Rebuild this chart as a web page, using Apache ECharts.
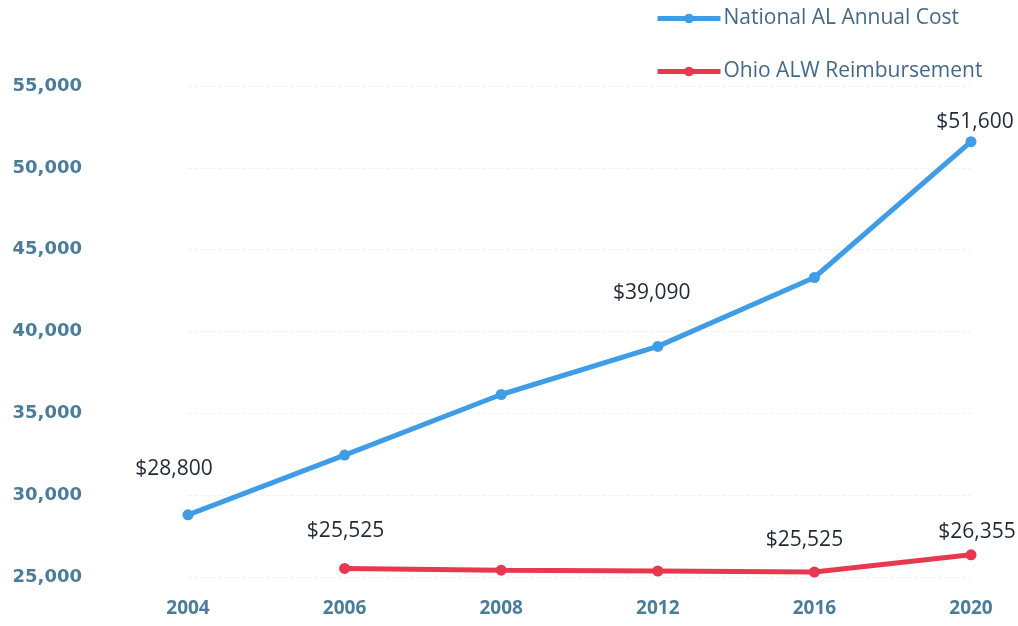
<!DOCTYPE html>
<html>
<head>
<meta charset="utf-8">
<script src="https://cdn.jsdelivr.net/npm/echarts@6/dist/echarts.min.js"></script>
<style>
  html, body { margin: 0; padding: 0; background: #ffffff; }
  #chart { width: 1018px; height: 626px; }
</style>
</head>
<body>
<div id="chart"></div>
<script>
// ---- data ----
var years = ['2004', '2006', '2008', '2012', '2016', '2020'];
var nationalCost = [28800, 32450, 36150, 39090, 43300, 51600];
var ohioReimb = [null, 25525, 25420, 25360, 25300, 26355];
var nationalLabels = ['$28,800', '', '', '$39,090', '', '$51,600'];
var ohioLabels = ['', '$25,525', '', '', '$25,525', '$26,355'];
var yTicks = { min: 25000, max: 55000, step: 5000 };

// ---- label placement (style, not data) ----
var nationalOffsets = [[-14, -46], [0, 0], [0, 0], [-6, -53], [0, 0], [4, -20]];
var ohioOffsets = [[0, 0], [1, -37], [0, 0], [0, 0], [-10, -32], [6, -23]];

var valueLabelStyle = {
  color: '#1f2a36',
  fontFamily: 'Open Sans',
  fontSize: 21
};

function buildData(values, labels, offsets) {
  return values.map(function (v, i) {
    var item = { value: v };
    if (labels[i]) {
      item.label = Object.assign({
        show: true,
        position: 'inside',
        offset: offsets[i],
        formatter: labels[i]
      }, valueLabelStyle);
    }
    return item;
  });
}

var axisColor = '#4a7c9c';

var chart = echarts.init(document.getElementById('chart'));
chart.setOption({
  animation: false,
  backgroundColor: '#ffffff',
  grid: { left: 188, right: 47, top: 86, bottom: 49 },
  legend: {
    orient: 'vertical',
    left: 655,
    top: 8,
    padding: 0,
    itemWidth: 63,
    itemHeight: 12,
    itemGap: 32,
    lineStyle: { width: 5 },
    textStyle: { fontFamily: 'Open Sans', fontSize: 21, color: '#44698a', padding: [0, 0, 0, -2] },
    data: ['National AL Annual Cost', 'Ohio ALW Reimbursement']
  },
  xAxis: {
    type: 'category',
    data: years,
    boundaryGap: false,
    axisLine: { show: false },
    axisTick: { show: false },
    splitLine: { show: false },
    axisLabel: {
      color: axisColor,
      fontFamily: 'Open Sans',
      fontWeight: 'bold',
      fontSize: 19,
      margin: 22
    }
  },
  yAxis: {
    type: 'value',
    min: yTicks.min,
    max: yTicks.max,
    interval: yTicks.step,
    axisLine: { show: false },
    axisTick: { show: false },
    splitLine: { show: true, lineStyle: { color: '#f1f4f7', type: 'dashed', width: 1 } },
    axisLabel: {
      color: axisColor,
      fontFamily: 'DejaVu Sans',
      fontWeight: 'bold',
      fontSize: 18,
      margin: 106,
      formatter: function (v) { return v.toLocaleString('en-US'); }
    }
  },
  series: [
    {
      name: 'National AL Annual Cost',
      type: 'line',
      data: buildData(nationalCost, nationalLabels, nationalOffsets),
      symbol: 'circle',
      symbolSize: 11,
      itemStyle: { color: '#3f9ce6' },
      lineStyle: { width: 5, color: '#3f9ce6' },
      z: 3
    },
    {
      name: 'Ohio ALW Reimbursement',
      type: 'line',
      data: buildData(ohioReimb, ohioLabels, ohioOffsets),
      symbol: 'circle',
      symbolSize: 11,
      itemStyle: { color: '#e8384f' },
      lineStyle: { width: 5, color: '#e8384f' },
      z: 3
    }
  ]
});
</script>
</body>
</html>
